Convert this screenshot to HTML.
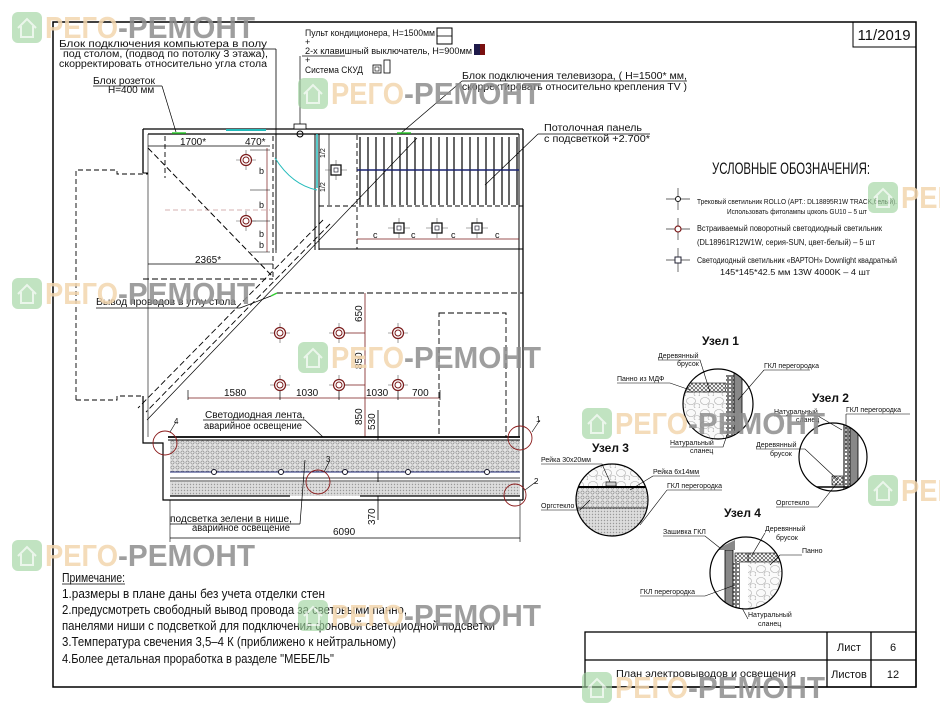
<!DOCTYPE html>
<html><head><meta charset="utf-8"><style>
html,body{margin:0;padding:0;background:#fff;}
svg{display:block;}
text{font-family:"Liberation Sans Narrow","Liberation Sans","DejaVu Sans",sans-serif;fill:#111;}
.wm1{font-family:"Liberation Sans",sans-serif;font-weight:bold;font-size:31px;fill:#f3d6ae;}
.wm2{font-family:"Liberation Sans",sans-serif;font-weight:bold;font-size:31px;fill:#8e8e8e;}
</style></head><body>
<svg width="940" height="705" viewBox="0 0 940 705" xmlns="http://www.w3.org/2000/svg">
<defs>
<pattern id="dots" width="5" height="5" patternUnits="userSpaceOnUse">
<rect width="5" height="5" fill="#e4e4e4"/><circle cx="2.5" cy="2.5" r="1.6" fill="none" stroke="#888" stroke-width="0.6"/></pattern>
<pattern id="fine" width="3" height="3" patternUnits="userSpaceOnUse">
<rect width="3" height="3" fill="#ddd"/><circle cx="1.5" cy="1.5" r="0.7" fill="#999"/></pattern>
<pattern id="xh" width="4" height="4" patternUnits="userSpaceOnUse">
<rect width="4" height="4" fill="#fff"/><path d="M0 4L4 0M0 0L4 4" stroke="#333" stroke-width="0.6"/></pattern>
<pattern id="stone" width="14" height="12" patternUnits="userSpaceOnUse">
<rect width="14" height="12" fill="#fafafa"/><ellipse cx="5" cy="5" rx="4.5" ry="3.5" fill="none" stroke="#aaa" stroke-width="0.6"/><ellipse cx="11" cy="10" rx="3" ry="2.5" fill="none" stroke="#aaa" stroke-width="0.6"/></pattern>
<pattern id="brick" width="4" height="4" patternUnits="userSpaceOnUse">
<rect width="4" height="4" fill="#fff"/><rect x="0.5" y="0.5" width="3" height="3" fill="none" stroke="#222" stroke-width="0.6"/></pattern>
<g id="wm" opacity="0.85">
<rect x="0" y="0" width="30" height="31" rx="6" fill="#9fd39f" opacity="0.75"/>
<path d="M6 16 L15 7 L24 16 M9 14 V25 H21 V14" fill="none" stroke="#e8f5e8" stroke-width="2"/>
<text x="33" y="26" class="wm1" textLength="73" lengthAdjust="spacingAndGlyphs">РЕГО</text>
<text x="106" y="26" class="wm2" textLength="137" lengthAdjust="spacingAndGlyphs">-РЕМОНТ</text>
</g>
<g id="lt">
<line x1="-10" y1="0" x2="10" y2="0" stroke="#555" stroke-width="0.6"/><line x1="0" y1="-10" x2="0" y2="10" stroke="#555" stroke-width="0.6"/>
<circle r="5.5" fill="#fff" stroke="#7a1a1a" stroke-width="1.2"/><circle r="3" fill="none" stroke="#7a1a1a" stroke-width="1"/>
</g>
<g id="sq">
<line x1="-11" y1="0" x2="11" y2="0" stroke="#555" stroke-width="0.6"/><line x1="0" y1="-10" x2="0" y2="10" stroke="#555" stroke-width="0.6"/>
<rect x="-5" y="-5" width="10" height="10" fill="#fff" stroke="#111" stroke-width="1.3"/><rect x="-2" y="-2" width="4" height="4" fill="none" stroke="#223" stroke-width="0.7"/>
</g>
</defs>

<rect x="53" y="22" width="863" height="665" fill="none" stroke="#000" stroke-width="1.5"/>
<rect x="853" y="22" width="63" height="25" fill="none" stroke="#000" stroke-width="1"/>
<text x="884" y="40" font-size="15" text-anchor="middle" font-family="Liberation Sans">11/2019</text>

<g stroke="#000" stroke-width="1.3" fill="none">
<rect x="585" y="632" width="331" height="55"/>
<line x1="585" y1="660" x2="916" y2="660"/>
<line x1="827" y1="632" x2="827" y2="687"/><line x1="871" y1="632" x2="871" y2="687"/>
</g>
<text x="849" y="651" font-size="11" text-anchor="middle">Лист</text>
<text x="893" y="651" font-size="11" text-anchor="middle">6</text>
<text x="849" y="678" font-size="11" text-anchor="middle">Листов</text>
<text x="893" y="678" font-size="11" text-anchor="middle">12</text>
<text x="616" y="677" font-size="10" textLength="180" lengthAdjust="spacingAndGlyphs">План электровыводов и освещения</text>

<text x="267" y="47" font-size="10" text-anchor="end" textLength="208" lengthAdjust="spacingAndGlyphs">Блок подключения компьютера в полу</text>
<line x1="60" y1="49" x2="276" y2="49" stroke="#000" stroke-width="0.8"/>
<line x1="276" y1="49" x2="276" y2="253" stroke="#000" stroke-width="0.8"/>
<text x="63" y="57" font-size="10" textLength="205" lengthAdjust="spacingAndGlyphs">под столом, (подвод по потолку 3 этажа),</text>
<text x="59" y="67" font-size="10" textLength="208" lengthAdjust="spacingAndGlyphs">скорректировать относительно угла стола</text>
<text x="93" y="84" font-size="10" textLength="62" lengthAdjust="spacingAndGlyphs">Блок розеток</text>
<line x1="93" y1="86" x2="162" y2="86" stroke="#000" stroke-width="0.7"/>
<text x="108" y="93" font-size="10">H=400 мм</text>
<polyline points="162,86 176,132" fill="none" stroke="#000" stroke-width="0.7"/>

<text x="305" y="36" font-size="9" textLength="130" lengthAdjust="spacingAndGlyphs">Пульт кондиционера, H=1500мм</text>
<rect x="437" y="28" width="15" height="16" fill="none" stroke="#000" stroke-width="1"/><line x1="437" y1="36" x2="452" y2="36" stroke="#000" stroke-width="0.8"/>
<text x="305" y="45" font-size="9">+</text>
<text x="305" y="54" font-size="9" textLength="167" lengthAdjust="spacingAndGlyphs">2-х клавишный выключатель, H=900мм</text>
<rect x="474" y="44" width="11" height="11" fill="#1e1a4a"/><rect x="480" y="44" width="5" height="11" fill="#7a1010"/>
<line x1="302" y1="56" x2="345" y2="56" stroke="#000" stroke-width="0.7"/>
<line x1="300" y1="56" x2="300" y2="124" stroke="#000" stroke-width="0.7"/>
<text x="305" y="63" font-size="9">+</text>
<text x="305" y="73" font-size="9" textLength="58" lengthAdjust="spacingAndGlyphs">Система СКУД</text>
<rect x="373" y="65" width="8" height="8" fill="none" stroke="#000" stroke-width="0.8"/><rect x="375" y="67" width="4" height="4" fill="none" stroke="#000" stroke-width="0.6"/>
<rect x="384" y="60" width="6" height="13" fill="none" stroke="#000" stroke-width="0.8"/>

<text x="462" y="79" font-size="10" textLength="225" lengthAdjust="spacingAndGlyphs">Блок подключения телевизора, ( H=1500* мм,</text>
<line x1="462" y1="81" x2="687" y2="81" stroke="#000" stroke-width="0.7"/>
<text x="462" y="90" font-size="10" textLength="225" lengthAdjust="spacingAndGlyphs">скорректировать относительно крепления TV )</text>
<line x1="462" y1="81" x2="400" y2="134" stroke="#000" stroke-width="0.7"/>

<text x="544" y="131" font-size="10" textLength="98" lengthAdjust="spacingAndGlyphs">Потолочная панель</text>
<line x1="538" y1="134" x2="650" y2="134" stroke="#000" stroke-width="0.7"/>
<text x="544" y="142" font-size="10" textLength="106" lengthAdjust="spacingAndGlyphs">с подсветкой +2.700*</text>
<line x1="538" y1="134" x2="485" y2="185" stroke="#000" stroke-width="0.7"/>

<text x="712" y="174" font-size="17" textLength="158" lengthAdjust="spacingAndGlyphs">УСЛОВНЫЕ ОБОЗНАЧЕНИЯ:</text>
<g stroke="#333" stroke-width="0.7"><line x1="666" y1="199" x2="690" y2="199"/><line x1="678" y1="188" x2="678" y2="210"/></g>
<circle cx="678" cy="199" r="2.5" fill="#fff" stroke="#111"/>
<text x="797" y="204" font-size="7.5" text-anchor="middle" textLength="200" lengthAdjust="spacingAndGlyphs">Трековый светильник ROLLO (АРТ.: DL18895R1W TRACK,белый).</text>
<text x="797" y="214" font-size="7.5" text-anchor="middle" textLength="140" lengthAdjust="spacingAndGlyphs">Использовать фитолампы цоколь GU10 – 5 шт</text>
<g stroke="#333" stroke-width="0.7"><line x1="666" y1="229" x2="690" y2="229"/><line x1="678" y1="218" x2="678" y2="240"/></g>
<circle cx="678" cy="229" r="3" fill="#fff" stroke="#7a1a1a" stroke-width="1.2"/>
<text x="697" y="231" font-size="8" textLength="185" lengthAdjust="spacingAndGlyphs">Встраиваемый поворотный светодиодный светильник</text>
<text x="697" y="245" font-size="8" textLength="178" lengthAdjust="spacingAndGlyphs">(DL18961R12W1W, серия-SUN, цвет-белый) – 5 шт</text>
<g stroke="#333" stroke-width="0.7"><line x1="666" y1="260" x2="690" y2="260"/><line x1="678" y1="248" x2="678" y2="272"/></g>
<rect x="675" y="257" width="6" height="6" fill="#fff" stroke="#223" stroke-width="1"/>
<text x="697" y="263" font-size="8" textLength="200" lengthAdjust="spacingAndGlyphs">Светодиодный светильник «ВАРТОН» Downlight квадратный</text>
<text x="720" y="275" font-size="8" textLength="150" lengthAdjust="spacingAndGlyphs">145*145*42.5 мм 13W 4000K – 4 шт</text>

<g fill="none" stroke="#000">
<line x1="143" y1="129" x2="523" y2="129" stroke-width="1.3"/>
<line x1="148" y1="134" x2="519" y2="134" stroke-width="1.3"/>
<line x1="143" y1="129" x2="143" y2="173" stroke-width="1.3"/>
<line x1="143" y1="173" x2="148" y2="173" stroke-width="1"/>
<line x1="148" y1="134" x2="148" y2="437" stroke-width="0.6"/>
<line x1="523" y1="129" x2="523" y2="500" stroke-width="1.3"/>
<line x1="519" y1="134" x2="519" y2="437" stroke-width="1"/>
<line x1="226" y1="130" x2="266" y2="130" stroke="#2bb" stroke-width="2"/>
<polyline points="76,400 76,170 117,170 117,174 148,174" stroke-dasharray="5,3" stroke-width="0.9"/>
<polyline points="76,400 117,400 117,396 143,396" stroke-dasharray="5,3" stroke-width="0.9"/>
<polyline points="143,396 143,443 163,443 163,500 523,500" stroke-width="1.2"/>
<line x1="276" y1="134" x2="276" y2="250" stroke-width="0.9"/>
<line x1="273" y1="136" x2="273" y2="279" stroke-dasharray="5,3" stroke-width="0.9"/>
<line x1="165" y1="136" x2="165" y2="178" stroke-dasharray="5,3" stroke-width="0.9"/>
<line x1="315" y1="134" x2="315" y2="250" stroke-width="1"/>
<line x1="319" y1="134" x2="319" y2="250" stroke-width="1"/>
<line x1="317" y1="134" x2="317" y2="188" stroke="#2bb" stroke-width="1.5"/>
<path d="M275 158 Q292 185 317 190" stroke="#2bb" stroke-width="1"/>
<line x1="319" y1="249" x2="523" y2="249" stroke-width="1"/>
<line x1="357" y1="135" x2="357" y2="249" stroke-dasharray="5,3" stroke-width="0.9"/>
<line x1="319" y1="206" x2="523" y2="206" stroke-dasharray="5,3" stroke-width="0.9"/>
<line x1="357" y1="249" x2="523" y2="249" stroke-dasharray="5,3" stroke-width="0.9"/>
<line x1="143" y1="279" x2="273" y2="279" stroke-dasharray="6,3" stroke-width="1"/>
<line x1="277" y1="293" x2="523" y2="293" stroke-dasharray="6,3" stroke-width="1"/>
<line x1="148" y1="148" x2="273" y2="277" stroke-dasharray="6,3" stroke-width="1"/>
<line x1="165" y1="210" x2="270" y2="210" stroke="#a66" stroke-dasharray="5,3" stroke-width="0.6"/>
<line x1="417" y1="138" x2="147" y2="420" stroke-width="0.7"/>
<line x1="323" y1="220" x2="138" y2="408" stroke-dasharray="6,3" stroke-width="0.9"/>
<line x1="330" y1="224" x2="146" y2="412" stroke-dasharray="6,3" stroke-width="0.9"/>
<path d="M360 137V205M368 137V205M376 137V205M384 137V205M392 137V205M400 137V205M407 137V205M415 137V205M423 137V205M431 137V205M439 137V205M447 137V205M454 137V205M462 137V205M470 137V205M478 137V205M486 137V205M494 137V205M502 137V205M509 137V205M517 137V205" stroke-width="1.2"/>
<line x1="357" y1="170" x2="519" y2="170" stroke="#1a2370" stroke-width="1.4"/>
<line x1="148" y1="146" x2="270" y2="146" stroke-width="0.7"/>
<line x1="148" y1="264" x2="273" y2="264" stroke-width="0.7"/>
<line x1="267" y1="148" x2="267" y2="252" stroke="#7a1a1a" stroke-width="0.7"/>
<path d="M250 150H270M250 190H270M250 221H270M250 252H270" stroke-width="0.6"/>
<line x1="329" y1="134" x2="329" y2="205" stroke-width="0.7"/>
<line x1="357" y1="239" x2="519" y2="239" stroke="#7a1a1a" stroke-width="0.7"/>
<line x1="365" y1="293" x2="365" y2="437" stroke="#7a1a1a" stroke-width="0.8"/>
<line x1="378" y1="410" x2="378" y2="520" stroke-width="0.8"/>
<line x1="188" y1="398" x2="440" y2="398" stroke="#7a1a1a" stroke-width="0.8"/>
<path d="M188 390V400M280 390V400M339 390V400M398 390V400M440 390V400" stroke-width="0.7"/>
<path d="M339 333H365M339 385H365" stroke="#7a1a1a" stroke-width="0.8"/>
<rect x="439" y="313" width="67" height="124" stroke-dasharray="6,3" stroke-width="0.9"/>
<rect x="170" y="440" width="350" height="32" fill="url(#dots)" stroke="none"/>
<rect x="170" y="482" width="350" height="14" fill="url(#fine)" stroke="none"/>
<line x1="168" y1="437" x2="520" y2="437" stroke-width="1.8"/>
<line x1="168" y1="440" x2="520" y2="440" stroke-width="1"/>
<line x1="170" y1="472" x2="520" y2="472" stroke="#1a2370" stroke-width="1"/>
<line x1="170" y1="478" x2="520" y2="478" stroke-width="0.8"/>
<line x1="170" y1="481" x2="520" y2="481" stroke-width="0.8"/>
<path d="M170 496H290M360 496H520" stroke-width="1.2"/>
<line x1="170" y1="538" x2="520" y2="538" stroke-width="0.8"/>
<path d="M170 500V542M520 500V542" stroke-width="0.6"/>
<g stroke="#8a1a1a" stroke-width="0.9">
<circle cx="165" cy="443" r="12"/><circle cx="520" cy="438" r="12"/>
<circle cx="515" cy="495" r="11"/><circle cx="318" cy="482" r="12"/>
</g>
<path d="M170 432L176 422M532 432L540 420M525 490L537 481M324 472L330 460" stroke-width="0.6"/>
</g>
<g fill="#fff" stroke="#112" stroke-width="1"><circle cx="214" cy="472" r="2.5"/><circle cx="281" cy="472" r="2.5"/><circle cx="345" cy="472" r="2.5"/><circle cx="408" cy="472" r="2.5"/><circle cx="487" cy="472" r="2.5"/></g>
<g stroke="#3c3" stroke-width="1.5"><line x1="172" y1="133" x2="186" y2="133"/><line x1="397" y1="133" x2="411" y2="133"/><line x1="271" y1="296" x2="277" y2="293"/></g>
<rect x="294" y="124" width="12" height="5" fill="#fff" stroke="#000" stroke-width="0.8"/>
<circle cx="300" cy="134" r="3" fill="none" stroke="#000" stroke-width="1"/>

<use href="#lt" x="246" y="160"/><use href="#lt" x="246" y="221"/>
<use href="#lt" x="280" y="333"/><use href="#lt" x="339" y="333"/><use href="#lt" x="398" y="333"/>
<use href="#lt" x="280" y="385"/><use href="#lt" x="339" y="385"/><use href="#lt" x="398" y="385"/>
<use href="#sq" x="336" y="170"/><use href="#sq" x="399" y="228"/><use href="#sq" x="437" y="228"/><use href="#sq" x="477" y="228"/>

<text x="180" y="145" font-size="10">1700*</text>
<text x="245" y="145" font-size="10">470*</text>
<text x="195" y="263" font-size="10">2365*</text>
<g font-size="9"><text x="259" y="174">b</text><text x="259" y="208">b</text><text x="259" y="237">b</text><text x="259" y="248">b</text></g>
<text x="325" y="158" font-size="7" transform="rotate(-90 325 158)">1/2</text>
<text x="325" y="192" font-size="7" transform="rotate(-90 325 192)">1/2</text>
<g font-size="9"><text x="373" y="238">c</text><text x="411" y="238">c</text><text x="451" y="238">c</text><text x="495" y="238">c</text></g>
<text x="96" y="305" font-size="10" textLength="140" lengthAdjust="spacingAndGlyphs">Вывод проводов в углу стола</text>
<line x1="96" y1="308" x2="240" y2="308" stroke="#000" stroke-width="0.7"/>
<line x1="240" y1="308" x2="271" y2="296" stroke="#000" stroke-width="0.7"/>
<g font-size="10"><text x="224" y="396">1580</text><text x="296" y="396">1030</text><text x="366" y="396">1030</text><text x="412" y="396">700</text></g>
<g font-size="10"><text x="362" y="322" transform="rotate(-90 362 322)">650</text><text x="362" y="369" transform="rotate(-90 362 369)">850</text><text x="362" y="425" transform="rotate(-90 362 425)">850</text><text x="375" y="430" transform="rotate(-90 375 430)">530</text><text x="375" y="525" transform="rotate(-90 375 525)">370</text></g>
<text x="205" y="418" font-size="10" textLength="100" lengthAdjust="spacingAndGlyphs">Светодиодная лента,</text>
<line x1="203" y1="420" x2="305" y2="420" stroke="#000" stroke-width="0.7"/>
<line x1="305" y1="420" x2="323" y2="437" stroke="#000" stroke-width="0.7"/>
<text x="204" y="429" font-size="10" textLength="98" lengthAdjust="spacingAndGlyphs">аварийное освещение</text>
<text x="170" y="522" font-size="10" textLength="122" lengthAdjust="spacingAndGlyphs">подсветка зелени в нише,</text>
<line x1="170" y1="524" x2="300" y2="524" stroke="#000" stroke-width="0.7"/>
<line x1="300" y1="524" x2="305" y2="460" stroke="#000" stroke-width="0.7"/>
<text x="192" y="531" font-size="10" textLength="98" lengthAdjust="spacingAndGlyphs">аварийное освещение</text>
<text x="333" y="535" font-size="10">6090</text>
<g font-size="8"><text x="174" y="424">4</text><text x="536" y="422">1</text><text x="534" y="484">2</text><text x="326" y="462">3</text></g>

<g font-size="12.5">
<text x="62" y="582" textLength="63" lengthAdjust="spacingAndGlyphs">Примечание:</text>
<line x1="62" y1="584" x2="125" y2="584" stroke="#000" stroke-width="0.7"/>
<text x="62" y="598" textLength="263" lengthAdjust="spacingAndGlyphs">1.размеры в плане даны без учета отделки стен</text>
<text x="62" y="614" textLength="345" lengthAdjust="spacingAndGlyphs">2.предусмотреть свободный вывод провода за световыми панно,</text>
<text x="62" y="630" textLength="433" lengthAdjust="spacingAndGlyphs">панелями ниши с подсветкой для подключения фоновой светодиодной подсветки</text>
<text x="62" y="646" textLength="334" lengthAdjust="spacingAndGlyphs">3.Температура свечения 3,5–4 К (приближено к нейтральному)</text>
<text x="62" y="663" textLength="272" lengthAdjust="spacingAndGlyphs">4.Более детальная проработка в разделе "МЕБЕЛЬ"</text>
</g>

<text x="702" y="345" font-size="12" font-weight="bold" style="font-family:'Liberation Sans'">Узел 1</text>
<text x="812" y="402" font-size="12" font-weight="bold" style="font-family:'Liberation Sans'">Узел 2</text>
<text x="592" y="452" font-size="12" font-weight="bold" style="font-family:'Liberation Sans'">Узел 3</text>
<text x="724" y="517" font-size="12" font-weight="bold" style="font-family:'Liberation Sans'">Узел 4</text>

<clipPath id="c1"><circle cx="718" cy="404" r="35"/></clipPath>
<g clip-path="url(#c1)">
<rect x="680" y="385" width="60" height="60" fill="url(#stone)"/>
<rect x="684" y="383" width="42" height="9" fill="url(#xh)" stroke="#000" stroke-width="0.6"/>
<rect x="726" y="375" width="8" height="70" fill="url(#brick)"/>
<rect x="734" y="365" width="8" height="80" fill="#888" stroke="#000" stroke-width="0.8"/>
</g>
<circle cx="718" cy="404" r="35" fill="none" stroke="#000" stroke-width="1.2"/>
<clipPath id="c2"><circle cx="833" cy="457" r="34"/></clipPath>
<g clip-path="url(#c2)">
<rect x="843" y="420" width="7" height="70" fill="url(#brick)"/>
<rect x="850" y="420" width="8" height="70" fill="#888" stroke="#000" stroke-width="0.8"/>
<rect x="832" y="476" width="11" height="9" fill="url(#xh)" stroke="#000" stroke-width="0.6"/>
<line x1="795" y1="487" x2="850" y2="487" stroke="#000" stroke-width="1.5"/>
</g>
<circle cx="833" cy="457" r="34" fill="none" stroke="#000" stroke-width="1.2"/>
<clipPath id="c3"><circle cx="612" cy="500" r="36"/></clipPath>
<g clip-path="url(#c3)">
<rect x="570" y="460" width="85" height="26" fill="url(#stone)"/>
<rect x="570" y="488" width="85" height="20" fill="url(#dots)"/>
<rect x="570" y="508" width="85" height="40" fill="url(#fine)"/>
<line x1="570" y1="487" x2="655" y2="487" stroke="#000" stroke-width="2"/>
<line x1="570" y1="508" x2="655" y2="508" stroke="#000" stroke-width="0.8"/>
<rect x="606" y="482" width="10" height="4" fill="#ccc" stroke="#000" stroke-width="0.6"/>
</g>
<circle cx="612" cy="500" r="36" fill="none" stroke="#000" stroke-width="1.2"/>
<clipPath id="c4"><circle cx="746" cy="573" r="36"/></clipPath>
<g clip-path="url(#c4)">
<rect x="748" y="562" width="40" height="50" fill="url(#stone)"/>
<rect x="748" y="553" width="40" height="9" fill="url(#xh)" stroke="#000" stroke-width="0.6"/>
<rect x="735" y="553" width="13" height="9" fill="url(#xh)" stroke="#000" stroke-width="0.6"/>
<rect x="733" y="562" width="7" height="55" fill="url(#brick)"/>
<rect x="725" y="550" width="8" height="65" fill="#888" stroke="#000" stroke-width="0.8"/>
<polygon points="715,550 735,540 735,550" fill="#888"/>
</g>
<circle cx="746" cy="573" r="36" fill="none" stroke="#000" stroke-width="1.2"/>
<g font-size="7">
<text x="658" y="358">Деревянный</text><text x="677" y="366">брусок</text>
<text x="617" y="381">Панно из МДФ</text>
<text x="764" y="368">ГКЛ перегородка</text>
<text x="670" y="445">Натуральный</text><text x="690" y="453">сланец</text>
<text x="774" y="414">Натуральный</text><text x="796" y="422">сланец</text>
<text x="846" y="412">ГКЛ перегородка</text>
<text x="756" y="447">Деревянный</text><text x="770" y="456">брусок</text>
<text x="776" y="505">Оргстекло</text>
<text x="541" y="462">Рейка 30х20мм</text>
<text x="653" y="474">Рейка 6х14мм</text>
<text x="667" y="488">ГКЛ перегородка</text>
<text x="541" y="508">Оргстекло</text>
<text x="663" y="534">Зашивка ГКЛ</text>
<text x="765" y="531">Деревянный</text><text x="776" y="540">брусок</text>
<text x="802" y="553">Панно</text>
<text x="640" y="594">ГКЛ перегородка</text>
<text x="748" y="617">Натуральный</text><text x="758" y="626">сланец</text>
</g>
<g stroke="#000" stroke-width="0.6" fill="none">
<path d="M658 360H700L710 392M617 383H670L690 390M764 370H810M764 370L738 400M670 447H723L728 432"/>
<path d="M774 416H818L842 430M846 414H910M846 414V450M756 449H805L838 480M776 507H818L838 482"/>
<path d="M541 464H602L610 482M653 476H700M653 476L630 490M667 490H722M667 490L640 525M541 510H580L590 500"/>
<path d="M663 536H705L720 548M765 533L752 555M802 555H780L770 565M640 596H705L735 585M748 619L742 608"/>
</g>

<use href="#wm" x="12" y="12"/>
<use href="#wm" x="298" y="78"/>
<use href="#wm" x="12" y="278"/>
<use href="#wm" x="298" y="342"/>
<use href="#wm" x="12" y="540"/>
<use href="#wm" x="298" y="600"/>
<use href="#wm" x="582" y="408"/>
<use href="#wm" x="582" y="672"/>
<use href="#wm" x="868" y="182"/>
<use href="#wm" x="868" y="475"/>
</svg>
</body></html>
